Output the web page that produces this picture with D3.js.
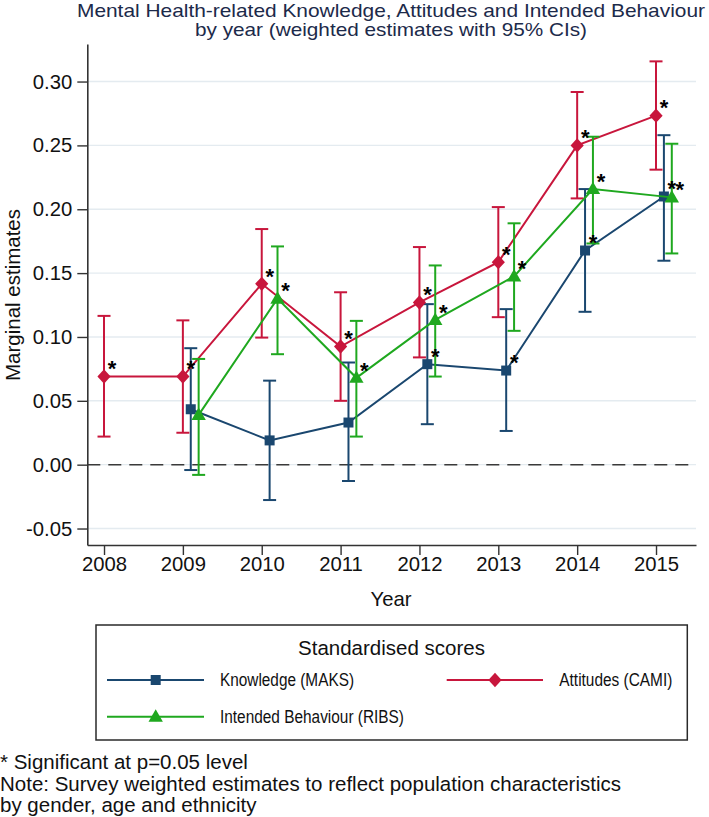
<!DOCTYPE html>
<html>
<head>
<meta charset="utf-8">
<script src="https://cdn.jsdelivr.net/npm/d3@7"></script>
<style>
  html, body { margin: 0; padding: 0; background: #ffffff; }
  text { font-family: "Liberation Sans", Arial, sans-serif; }
</style>
</head>
<body>
<script>
// ---------------- DATA ----------------
const years = [2008, 2009, 2010, 2011, 2012, 2013, 2014, 2015];

const knowledge   = [null, 0.0434, 0.019, 0.033, 0.0787, 0.0737, 0.1677, 0.2100];
const knowledgeLo = [null, -0.0042, -0.0277, -0.0128, 0.0317, 0.0264, 0.1197, 0.1597];
const knowledgeHi = [null, 0.0912, 0.0658, 0.0800, 0.1257, 0.1218, 0.2158, 0.2580];
const knowledgeSig = [false, false, false, false, true, true, true, true];

const attitudes   = [0.069, 0.069, 0.1416, 0.0925, 0.127, 0.1586, 0.250, 0.2733];
const attitudesLo = [0.022, 0.025, 0.0995, 0.050, 0.084, 0.1155, 0.2085, 0.231];
const attitudesHi = [0.1165, 0.113, 0.1845, 0.135, 0.1704, 0.2017, 0.2918, 0.3158];
const attitudesSig = [true, true, true, true, true, true, true, true];

const behaviour   = [null, 0.039, 0.130, 0.068, 0.1134, 0.1474, 0.2158, 0.2093];
const behaviourLo = [null, -0.008, 0.0865, 0.022, 0.069, 0.1048, 0.1732, 0.1654];
const behaviourHi = [null, 0.0828, 0.1709, 0.1126, 0.156, 0.189, 0.2568, 0.2513];
const behaviourSig = [false, false, true, true, true, true, true, true];

const yTickValues = [-0.05, 0.00, 0.05, 0.10, 0.15, 0.20, 0.25, 0.30];
const yTickLabels = ["-0.05", "0.00", "0.05", "0.10", "0.15", "0.20", "0.25", "0.30"];
const xTickLabels = ["2008", "2009", "2010", "2011", "2012", "2013", "2014", "2015"];

const seriesNames = ["Knowledge (MAKS)", "Attitudes (CAMI)", "Intended Behaviour (RIBS)"];

const titleLines = ["Mental Health-related Knowledge, Attitudes and Intended Behaviour",
                    "by year (weighted estimates with 95% CIs)"];
const footnotes = ["* Significant at p=0.05 level",
                   "Note: Survey weighted estimates to reflect population characteristics",
                   "by gender, age and ethnicity"];

// ---------------- SETUP ----------------
const W = 709, H = 817;
const svg = d3.select("body").append("svg").attr("width", W).attr("height", H);

const x = d3.scaleLinear().domain([2007.788, 2015.507]).range([87.3, 696]);
const y = d3.scaleLinear().domain([-0.0629, 0.3294]).range([545, 44]);

const colKnow = "#1a476f", colAtt = "#c8163c", colBeh = "#1fa81f";
const axisCol = "#333333";

// gridlines
svg.append("g").selectAll("line").data(yTickValues).join("line")
  .attr("x1", x.range()[0]).attr("x2", x.range()[1])
  .attr("y1", d => y(d)).attr("y2", d => y(d))
  .attr("stroke", "#e4ebf0").attr("stroke-width", 1.4);

// zero reference line
svg.append("line")
  .attr("x1", x.range()[0]).attr("x2", x.range()[1])
  .attr("y1", y(0)).attr("y2", y(0))
  .attr("stroke", "#3a3a3a").attr("stroke-width", 1.5)
  .attr("stroke-dasharray", "13,8");

// axes
const yAxis = svg.append("g").attr("transform", `translate(${x.range()[0]},0)`)
  .call(d3.axisLeft(y).tickValues(yTickValues)
    .tickFormat((d, i) => yTickLabels[i]).tickSize(10).tickSizeOuter(0).tickPadding(5));
const xAxis = svg.append("g").attr("transform", `translate(0,${y.range()[0]})`)
  .call(d3.axisBottom(x).tickValues(years)
    .tickFormat((d, i) => xTickLabels[i]).tickSize(10).tickSizeOuter(0).tickPadding(2));
[yAxis, xAxis].forEach(g => {
  g.select(".domain").attr("stroke", axisCol).attr("stroke-width", 1.6);
  g.selectAll(".tick line").attr("stroke", axisCol).attr("stroke-width", 1.4);
  g.selectAll(".tick text").attr("fill", "#111").style("font-size", "20.3px")
    .style("font-family", '"Liberation Sans", Arial, sans-serif');
});

// axis titles
svg.append("text").attr("x", 391).attr("y", 606).attr("text-anchor", "middle")
  .style("font-size", "20.3px").attr("fill", "#111").text("Year");
svg.append("text").attr("transform", "translate(19.5,295) rotate(-90)")
  .attr("text-anchor", "middle").style("font-size", "20.5px").attr("fill", "#111")
  .text("Marginal estimates");

// title
const titleW = [628, 392];
titleLines.forEach((t, i) => {
  svg.append("text").attr("x", 391).attr("y", 17 + i * 19)
    .attr("text-anchor", "middle").style("font-size", "18.5px").attr("fill", "#1c2a4a")
    .attr("textLength", titleW[i]).attr("lengthAdjust", "spacingAndGlyphs")
    .text(t);
});

// ---------------- SERIES ----------------
function markerPath(shape, s) {
  if (shape === "square") return `M${-s/2},${-s/2}h${s}v${s}h${-s}z`;
  if (shape === "diamond") return `M0,${-s*0.6}L${s*0.55},0L0,${s*0.6}L${-s*0.55},0z`;
  return `M0,${-s*0.62}L${s*0.6},${s*0.42}L${-s*0.6},${s*0.42}z`;
}

const series = [
  { name: seriesNames[0], v: knowledge, lo: knowledgeLo, hi: knowledgeHi, sig: knowledgeSig, col: colKnow, shape: "square", size: 10, off: 0.1 },
  { name: seriesNames[1], v: attitudes, lo: attitudesLo, hi: attitudesHi, sig: attitudesSig, col: colAtt, shape: "diamond", size: 12, off: 0.0 },
  { name: seriesNames[2], v: behaviour, lo: behaviourLo, hi: behaviourHi, sig: behaviourSig, col: colBeh, shape: "triangle", size: 12, off: 0.2 }
];

series.forEach(s => {
  const pts = years.map((yr, i) => ({ yr: yr + s.off, v: s.v[i], lo: s.lo[i], hi: s.hi[i], sig: s.sig[i] }))
    .filter(d => d.v !== null);
  const g = svg.append("g");
  // error bars
  const eb = g.append("g").attr("stroke", s.col).attr("stroke-width", 2).attr("fill", "none");
  pts.forEach(d => {
    const cx = x(d.yr);
    eb.append("line").attr("x1", cx).attr("x2", cx).attr("y1", y(d.lo)).attr("y2", y(d.hi));
    eb.append("line").attr("x1", cx - 6.5).attr("x2", cx + 6.5).attr("y1", y(d.lo)).attr("y2", y(d.lo));
    eb.append("line").attr("x1", cx - 6.5).attr("x2", cx + 6.5).attr("y1", y(d.hi)).attr("y2", y(d.hi));
  });
  // connecting line
  g.append("path").datum(pts)
    .attr("d", d3.line().x(d => x(d.yr)).y(d => y(d.v)))
    .attr("fill", "none").attr("stroke", s.col).attr("stroke-width", 2);
  // markers
  g.selectAll("path.mk").data(pts).join("path").attr("class", "mk")
    .attr("transform", d => `translate(${x(d.yr)},${y(d.v)})`)
    .attr("d", markerPath(s.shape, s.size)).attr("fill", s.col);
  s.pts = pts;
});

// significance asterisks
series.forEach(s => {
  svg.append("g").selectAll("text").data(s.pts.filter(d => d.sig)).join("text")
    .attr("x", d => x(d.yr) + 8).attr("y", d => y(d.v) - 12.7 + 12.5)
    .attr("text-anchor", "middle").style("font-size", "22px").style("font-weight", "bold")
    .attr("fill", "#000").text("*");
});

// ---------------- LEGEND ----------------
const lg = svg.append("g");
lg.append("rect").attr("x", 96).attr("y", 625).attr("width", 591.3).attr("height", 115)
  .attr("fill", "#fff").attr("stroke", "#2a2a2a").attr("stroke-width", 1.5);
lg.append("text").attr("x", 391.5).attr("y", 655).attr("text-anchor", "middle")
  .style("font-size", "20.5px").attr("fill", "#111").text("Standardised scores");

const legPos = [
  { x0: 107, x1: 204, mx: 155.7, y: 680, tx: 220, tw: 134 },
  { x0: 446.7, x1: 543, mx: 495, y: 680, tx: 559.3, tw: 113 },
  { x0: 107, x1: 204, mx: 155.7, y: 716.7, tx: 220, tw: 184 }
];
series.forEach((s, i) => {
  const p = legPos[i];
  lg.append("line").attr("x1", p.x0).attr("x2", p.x1).attr("y1", p.y).attr("y2", p.y)
    .attr("stroke", s.col).attr("stroke-width", 2);
  lg.append("path").attr("transform", `translate(${p.mx},${p.y})`)
    .attr("d", markerPath(s.shape, s.size)).attr("fill", s.col);
  lg.append("text").attr("x", p.tx).attr("y", p.y + 6.3)
    .style("font-size", "17.5px").attr("fill", "#111")
    .attr("textLength", p.tw).attr("lengthAdjust", "spacingAndGlyphs").text(s.name);
});

// ---------------- FOOTNOTES ----------------
footnotes.forEach((t, i) => {
  svg.append("text").attr("x", 0).attr("y", 769.3 + i * 21.3)
    .style("font-size", "20.5px").attr("fill", "#111").text(t);
});
</script>
</body>
</html>
